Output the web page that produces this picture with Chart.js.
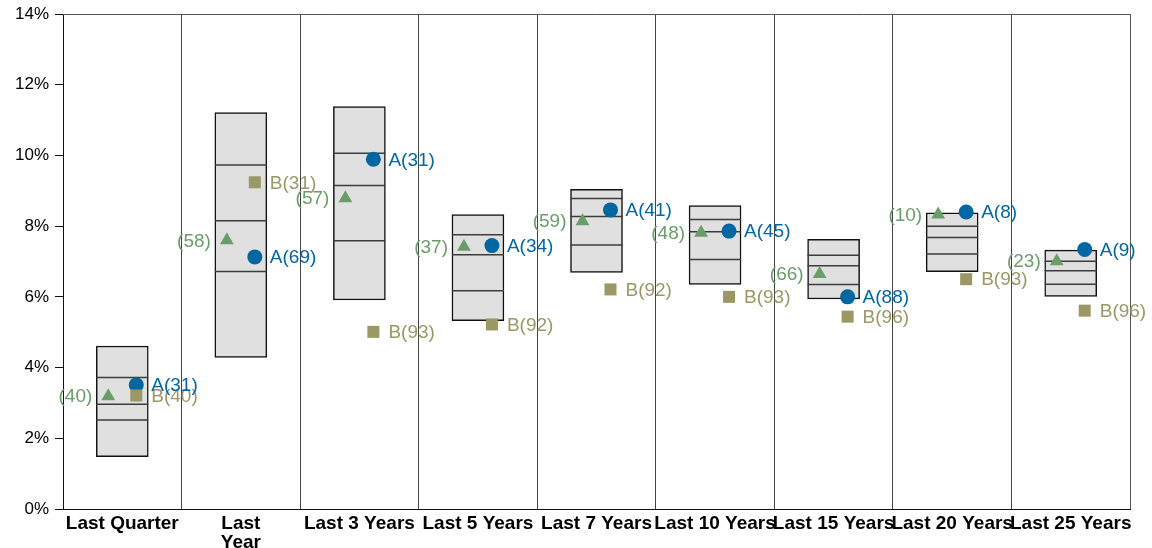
<!DOCTYPE html>
<html>
<head>
<meta charset="utf-8">
<script src="https://cdn.jsdelivr.net/npm/chart.js@4/dist/chart.umd.min.js"></script>
<style>
  html, body { margin: 0; padding: 0; background: #fff; }
  canvas { display: block; }
</style>
</head>
<body>
<canvas id="chart" width="1152" height="548"></canvas>
<script>
// periods on the x axis
const categories = ['Last Quarter', ['Last', 'Year'], 'Last 3 Years', 'Last 5 Years', 'Last 7 Years',
  'Last 10 Years', 'Last 15 Years', 'Last 20 Years', 'Last 25 Years'];

// universe percentiles (%)
const p5 = [1.48, 4.29, 5.91, 5.33, 6.69, 6.35, 5.94, 6.71, 6.01];
const p25 = [2.52, 6.72, 7.59, 6.17, 7.47, 7.06, 6.35, 7.21, 6.36];
const p50 = [2.96, 8.15, 9.15, 7.19, 8.27, 7.84, 6.88, 7.68, 6.74];
const p75 = [3.72, 9.73, 10.06, 7.76, 8.78, 8.19, 7.18, 8.00, 7.01];
const p95 = [4.61, 11.21, 11.38, 8.33, 9.04, 8.58, 7.63, 8.38, 7.32];

// portfolio A (circle), B (square), benchmark (triangle), with ranks
const seriesA = [3.51, 7.13, 9.89, 7.45, 8.46, 7.86, 6.00, 8.40, 7.34];
const rankA = [31, 69, 31, 34, 41, 45, 88, 8, 9];
const seriesB = [3.21, 9.24, 5.01, 5.22, 6.21, 6.00, 5.44, 6.50, 5.61];
const rankB = [40, 31, 93, 92, 92, 93, 96, 93, 96];
const seriesBench = [3.19, 7.60, 8.79, 7.42, 8.14, 7.81, 6.65, 8.33, 7.01];
const rankBench = [40, 58, 57, 37, 59, 48, 66, 10, 23];

const yTicks = [0, 2, 4, 6, 8, 10, 12, 14];

const BLUE = '#0067a3';
const GREEN = '#6a9d69';
const OLIVE = '#9b9865';
const FONT = 'Arial, "Liberation Sans", sans-serif';

const SHIFT = 0.118;
const at = (vals, dx) => vals.map((v, i) => ({ x: i + dx, y: v }));

const quartileLine = (vals) => ({
  type: 'scatter',
  xAxisID: 'x2',
  data: at(vals, 0),
  pointStyle: 'line',
  pointRadius: 26,
  borderColor: '#3c3c3c',
  borderWidth: 1.5,
  order: 5,
});

const marker = (vals, dx, style, radius, color, labels, side) => ({
  type: 'scatter',
  xAxisID: 'x2',
  data: at(vals, dx),
  pointStyle: style,
  pointRadius: radius,
  backgroundColor: color,
  borderColor: color,
  borderWidth: 0,
  order: 1,
  rankLabels: labels,
  labelSide: side,
  labelColor: color,
});

// draw rank labels next to the markers
const rankLabelPlugin = {
  id: 'rankLabels',
  afterDatasetsDraw(chart) {
    const { ctx } = chart;
    ctx.save();
    ctx.font = `19px ${FONT}`;
    ctx.textBaseline = 'middle';
    chart.data.datasets.forEach((ds, di) => {
      if (!ds.rankLabels) return;
      const meta = chart.getDatasetMeta(di);
      ctx.fillStyle = ds.labelColor;
      meta.data.forEach((pt, j) => {
        if (ds.labelSide === 'left') {
          ctx.textAlign = 'right';
          ctx.fillText(ds.rankLabels[j], pt.x - 16, pt.y + 1);
        } else {
          ctx.textAlign = 'left';
          ctx.fillText(ds.rankLabels[j], pt.x + 15, pt.y + 1);
        }
      });
    });
    ctx.restore();
  },
};

// outline of the plot area
const framePlugin = {
  id: 'frame',
  beforeDatasetsDraw(chart) {
    const { ctx, chartArea: a } = chart;
    ctx.save();
    ctx.strokeStyle = '#555';
    ctx.lineWidth = 1;
    ctx.beginPath();
    ctx.moveTo(a.left, a.top + 0.5);
    ctx.lineTo(a.right + 0.5, a.top + 0.5);
    ctx.lineTo(a.right + 0.5, a.bottom);
    ctx.stroke();
    ctx.restore();
  },
};

new Chart(document.getElementById('chart'), {
  type: 'bar',
  data: {
    labels: categories,
    datasets: [
      {
        type: 'bar',
        data: p5.map((lo, i) => [lo, p95[i]]),
        backgroundColor: '#e0e0e0',
        borderColor: '#111',
        borderWidth: 1.5,
        borderSkipped: false,
        barThickness: 52,
        grouped: false,
        order: 10,
      },
      quartileLine(p25),
      quartileLine(p50),
      quartileLine(p75),
      marker(seriesBench, -SHIFT, 'triangle', 8, GREEN, rankBench.map((r) => `(${r})`), 'left'),
      marker(seriesB, SHIFT, 'rect', 8.5, OLIVE, rankB.map((r) => `B(${r})`), 'right'),
      marker(seriesA, SHIFT, 'circle', 7.5, BLUE, rankA.map((r) => `A(${r})`), 'right'),
    ],
  },
  options: {
    responsive: false,
    animation: false,
    events: [],
    layout: { autoPadding: false, padding: { top: 14, right: 22, left: 0, bottom: 0 } },
    plugins: { legend: { display: false }, tooltip: { enabled: false } },
    scales: {
      x: {
        type: 'category',
        offset: true,
        grid: { offset: true, color: '#444', lineWidth: 1, drawTicks: false },
        border: { color: '#111', width: 1 },
        ticks: {
          color: '#000',
          font: { family: FONT, size: 19, weight: 'bold', lineHeight: 1.0 },
          maxRotation: 0,
          minRotation: 0,
          autoSkip: false,
          padding: 5,
        },
        afterFit: (axis) => {
          axis.height = 39;
          axis.paddingLeft = 0;
          axis.paddingRight = 0;
        },
      },
      x2: { type: 'linear', min: -0.5, max: 8.5, offset: false, display: false },
      y: {
        min: 0,
        max: 14,
        afterBuildTicks: (axis) => { axis.ticks = yTicks.map((v) => ({ value: v })); },
        grid: { drawOnChartArea: false, color: '#111', tickLength: 8 },
        border: { color: '#111', width: 1 },
        ticks: {
          color: '#000',
          font: { family: FONT, size: 17 },
          padding: 6,
          callback: (v) => `${v}%`,
        },
        afterFit: (axis) => {
          axis.width = 63;
          axis.paddingTop = 0;
          axis.paddingBottom = 0;
        },
      },
    },
  },
  plugins: [framePlugin, rankLabelPlugin],
});
</script>
</body>
</html>
